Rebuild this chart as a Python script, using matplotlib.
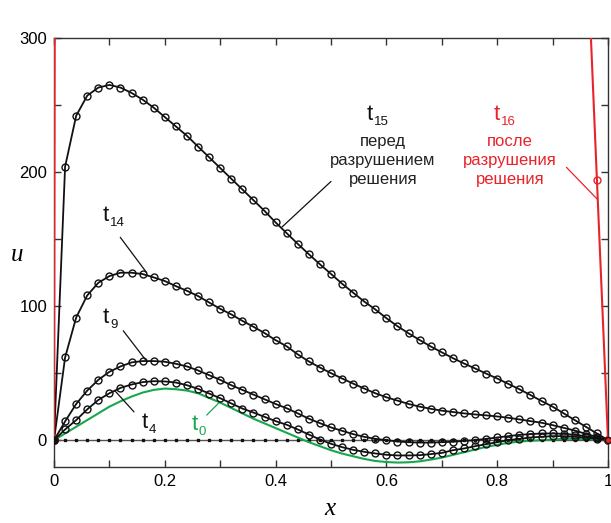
import numpy as np
import matplotlib.pyplot as plt

plt.rcParams['font.family'] = ['Liberation Sans', 'DejaVu Sans']

# --- data -------------------------------------------------------------
x = np.round(np.arange(0, 1.0001, 0.02), 2)

t4 = [0, 8, 15, 23, 30, 35, 39, 41.5, 43.3, 44, 43.8, 43, 41, 38.3, 34.8, 31.3,
      27.4, 23.6, 20.6, 17.4, 14.2, 11.5, 8, 4.2, 0.5, -2.7, -5.2, -7.2, -8.7,
      -9.9, -10.9, -11.4, -11.4, -11.2, -10.4, -9.5, -7.5, -6.2, -4.5, -3, -1.5,
      0, 1, 2, 2.5, 3, 3, 2.5, 2, 1, 0]
t9 = [0, 14, 27, 37, 45, 51, 55, 58, 59, 59, 58.5, 57, 55, 52, 48.5, 45, 41,
      37.5, 34, 30.5, 27, 23.8, 20, 16, 12.7, 9.5, 7, 4.5, 2.5, 1, 0, -1, -1.5,
      -1.8, -1.8, -1.5, -1.2, -0.5, 0, 1, 2, 3, 4, 4.5, 5, 5, 4.7, 4, 3, 1.7, 0]
t14 = [0, 61.7, 91.5, 108, 117.4, 122.4, 124.9, 124.9, 123.9, 121.4, 118.7,
       114.9, 111.4, 107.5, 102.7, 98, 93.8, 89, 84.6, 79.9, 74.6, 70, 64, 58.7,
       54.2, 50, 46, 42.2, 38.5, 35, 32, 29.5, 27, 25, 23.4, 22, 21, 20, 19.2,
       18.5, 17.7, 16.7, 15.5, 14.2, 13, 11.2, 9.2, 7.2, 4.7, 2.5, 0]
t15 = [0, 204, 242, 257, 263, 265, 263, 259, 254, 248, 241, 234, 227, 219, 211,
       203, 195, 187, 179, 171, 162.4, 154.4, 146.4, 138.7, 131.2, 124, 116.7,
       110, 103.4, 97.5, 91, 85, 79.7, 74.7, 69.9, 65.5, 61.2, 57.2, 53.5, 49.7,
       46, 42, 38, 33.7, 29.2, 25, 20, 15, 10, 5, 0]
# t16: only the two ends are inside the window
t16 = [0, 5000] + [np.nan] * 46 + [390, 194, 0]
t0 = [0, 5, 10, 15, 20, 25, 29, 32.5, 35.5, 37.5, 38.5, 38, 37, 35, 31.5, 28,
      24, 20, 16, 12.5, 9, 5.5, 2, -1.5, -4.5, -7.5, -10, -12, -14, -15.5,
      -16.3, -16.7, -16.5, -15.8, -14.5, -13, -11, -9, -7, -5, -3.5, -2, -1,
      -0.5, 0, 0.5, 1, 1, 0.8, 0.4, 0]
zero = np.zeros_like(x)

BLACK = '#111111'
RED = '#e8232a'
GREEN = '#16a84e'

fig = plt.figure(figsize=(6.11, 5.23), dpi=100)
ax = fig.add_axes([0.0884, 0.1071, 0.9067, 0.8203])

ax.plot(x, zero, color='#555555', lw=1.0, marker='s', ms=1.5,
        mfc=BLACK, mec=BLACK, zorder=2)
ax.plot(x, t0, color=GREEN, lw=1.5, zorder=3)
mk = dict(marker='o', ms=5, mfc='none', mew=1.0)
for t in (t4, t9, t14, t15):
    ax.plot(x, t, color=BLACK, lw=1.3, mec=BLACK, zorder=4, **mk)
ax.plot(x, t16, color=RED, lw=1.5, mec=RED, zorder=5, clip_on=True, **mk)
ax.plot([0], [0], 'o', color=BLACK, ms=5, zorder=6)
ax.plot([1], [0], 'o', color=RED, mec=BLACK, ms=4.5, zorder=6, clip_on=False)

ax.set_xlim(0, 1)
ax.set_ylim(-20, 300)
ax.set_xticks(np.arange(0, 1.01, 0.1))
ax.set_xticklabels(['0', '', '0.2', '', '0.4', '', '0.6', '', '0.8', '', '1'])
ax.set_yticks(np.arange(0, 301, 50))
ax.set_yticklabels(['0', '', '100', '', '200', '', '300'])
ax.tick_params(direction='in', length=5, width=1, top=True, right=True,
               labelsize=12, pad=5, color='#333333')
for s in ax.spines.values():
    s.set_color('#333333')
    s.set_linewidth(1)


def tlabel(xp, yp, sub, color):
    ax.text(xp, yp, 't', fontsize=16, color=color, ha='left', va='baseline')
    ax.annotate(sub, xy=(xp, yp), xytext=(5, -3.5), textcoords='offset points',
                fontsize=9.5, color=color, ha='left', va='baseline')


tlabel(0.565, 238.8, '15', BLACK)
tlabel(0.794, 238.8, '16', RED)
tlabel(0.0884, 163.4, '14', BLACK)
tlabel(0.0884, 87.3, '9', BLACK)
tlabel(0.1588, 9.0, '4', BLACK)
tlabel(0.249, 7.5, '0', GREEN)

for yb, (w1, w2) in zip([219.4, 205.2, 191.0],
                        [('перед', 'после'), ('разрушением', 'разрушения'),
                         ('решения', 'решения')]):
    ax.text(0.594, yb, w1, fontsize=12, color='#222222', ha='center', va='baseline')
    ax.text(0.823, yb, w2, fontsize=12, color=RED, ha='center', va='baseline')

leaders = [((0.500, 193), (0.4116, 159), BLACK),
           ((0.925, 203.5), (0.981, 179.6), RED),
           ((0.1196, 151.3), (0.1673, 124.9), BLACK),
           ((0.125, 81.6), (0.167, 59), BLACK),
           ((0.1444, 21.1), (0.110, 36.8), BLACK),
           ((0.2756, 18.7), (0.2996, 28.6), GREEN)]
for p0, p1, c in leaders:
    ax.annotate('', xy=p1, xytext=p0,
                arrowprops=dict(arrowstyle='-', color=c, lw=0.9,
                                shrinkA=0, shrinkB=0))

fig.text(0.0278, 0.5124, 'u', family='Liberation Serif', style='italic',
         fontsize=18, ha='center', va='center')
fig.text(0.540, 0.026, 'x', family='Liberation Serif', style='italic',
         fontsize=18, ha='center', va='center')

fig.savefig('out.png', dpi=100)
